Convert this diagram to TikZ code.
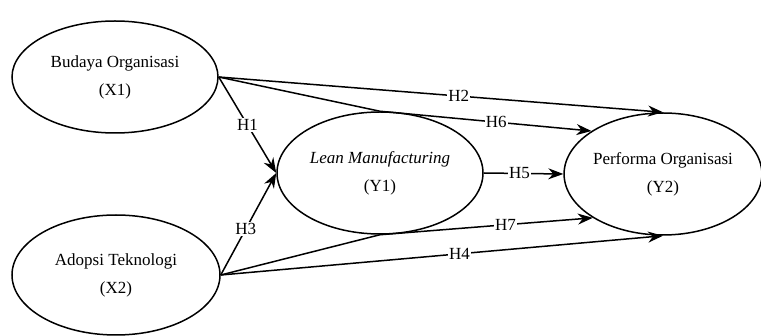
\documentclass[tikz,border=0pt]{standalone}
\usepackage{fontspec}
\setmainfont{Liberation Serif}
\usetikzlibrary{shapes.geometric,arrows.meta}

\begin{document}
\begin{tikzpicture}[x=1pt,y=-1pt,
    latent/.style={draw, ellipse, line width=1.5pt, inner sep=0pt, align=center,
      font=\fontsize{17}{28}\selectfont},
    rel/.style={line width=1.5pt, -{Stealth[length=15pt,width=11pt]}},
    hyp/.style={fill=white, inner sep=1pt, font=\fontsize{17}{20}\selectfont}]
      \useasboundingbox (0,0) rectangle (761,336);

      \node[latent, minimum width=206pt, minimum height=112pt] (x1) at (115,77) {Budaya Organisasi\\(X1)};
      \node[latent, minimum width=208pt, minimum height=120pt] (x2) at (116,275) {Adopsi Teknologi\\(X2)};
      \node[latent, minimum width=206pt, minimum height=122pt] (y1) at (380,173) {\textit{Lean Manufacturing}\\(Y1)};
      \node[latent, minimum width=196pt, minimum height=122pt] (y2) at (663,174) {Performa Organisasi\\(Y2)};

      \draw[rel] (x1.east) -- node[hyp, pos=0.5]{H1} (y1.west);
      \draw[rel] (x1.east) -- node[hyp, pos=0.54]{H2} (y2.north);
      \draw[rel] (x1.east) -- (y1.north) -- node[hyp, pos=0.55]{H6} (y2.149);
      \draw[rel] (x2.east) -- node[hyp, pos=0.45]{H3} (y1.west);
      \draw[rel] (x2.east) -- (y1.south) -- node[hyp, pos=0.59]{H7} (y2.212);
      \draw[rel] (x2.east) -- node[hyp, pos=0.54]{H4} (y2.south);
      \draw[rel] (y1.east) -- node[hyp, pos=0.45]{H5} (y2.west);
\end{tikzpicture}
\end{document}
